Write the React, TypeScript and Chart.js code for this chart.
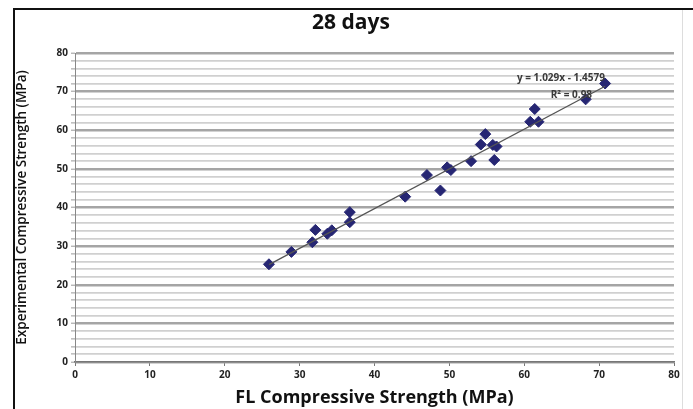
import React, { useEffect, useRef } from "react";
import { Chart, registerables } from "chart.js";

Chart.register(...registerables);

const chartTitle = "28 days";
const xAxisTitle = "FL Compressive Strength (MPa)";
const yAxisTitle = "Experimental Compressive Strength (MPa)";

const flStrength = [
  25.9, 28.9, 31.7, 32.1, 33.7, 34.3, 36.7, 36.7,
  44.1, 47.0, 48.8, 49.7, 50.2, 52.9, 54.2, 54.8,
  55.8, 56.3, 56.0, 60.8, 61.4, 61.9, 68.2, 70.8,
];
const expStrength = [
  25.3, 28.5, 31.0, 34.2, 33.2, 34.1, 36.2, 38.8,
  42.8, 48.4, 44.4, 50.4, 49.7, 52.0, 56.3, 59.0,
  56.2, 55.8, 52.3, 62.2, 65.5, 62.2, 68.0, 72.1,
];

const trendSlope = 1.029;
const trendIntercept = -1.4579;
const equationText = "y = 1.029x - 1.4579";
const r2Text = "R\u00B2 = 0.98";

const xTicks = [0, 10, 20, 30, 40, 50, 60, 70, 80];
const yTicks = [0, 10, 20, 30, 40, 50, 60, 70, 80];

const FONT = '"Open Sans", "Liberation Sans", sans-serif';

export default function App() {
  const canvasRef = useRef<HTMLCanvasElement | null>(null);

  useEffect(() => {
    const canvas = canvasRef.current;
    if (!canvas) return;

    const xMin = Math.min(...flStrength);
    const xMax = Math.max(...flStrength);
    const trendPoints = [
      { x: xMin, y: trendSlope * xMin + trendIntercept },
      { x: xMax, y: trendSlope * xMax + trendIntercept },
    ];

    const labelsPlugin = {
      id: "textLabels",
      afterDraw(chart: any) {
        const { ctx, scales } = chart;
        ctx.save();
        ctx.textAlign = "center";
        ctx.textBaseline = "middle";
        ctx.fillStyle = "#111";
        ctx.font = `bold 21px ${FONT}`;
        ctx.fillText(chartTitle, 351, 23);
        ctx.font = `bold 10px ${FONT}`;
        ctx.fillStyle = "#3a3a3a";
        ctx.fillText(equationText, scales.x.getPixelForValue(64.9), scales.y.getPixelForValue(73.5));
        ctx.fillText(r2Text, scales.x.getPixelForValue(66.3), scales.y.getPixelForValue(69.2));
        ctx.restore();
      },
    };

    const chart = new Chart(canvas, {
      type: "scatter",
      data: {
        datasets: [
          {
            type: "line",
            label: "Trend",
            data: trendPoints,
            borderColor: "#555",
            borderWidth: 1.3,
            pointRadius: 0,
            fill: false,
            order: 0,
          } as any,
          {
            label: "28 days",
            data: flStrength.map((x, i) => ({ x, y: expStrength[i] })),
            pointStyle: "rectRot",
            pointRadius: 5.5,
            backgroundColor: "#262673",
            borderColor: "#262673",
            borderWidth: 1,
            order: 1,
          },
        ],
      },
      options: {
        animation: false,
        responsive: false,
        layout: { padding: { left: 14, right: 19, top: 53, bottom: 0 } },
        plugins: {
          legend: { display: false },
          tooltip: { enabled: false },
          title: { display: false },
        },
        scales: {
          x: {
            type: "linear",
            min: 0,
            max: 80,
            afterBuildTicks: (scale: any) => {
              scale.ticks = xTicks.map((v) => ({ value: v }));
            },
            afterFit: (scale: any) => {
              scale.height = 47;
            },
            ticks: {
              color: "#222",
              font: { family: FONT, size: 10, weight: "bold" },
              padding: 3,
            },
            grid: {
              drawOnChartArea: false,
              drawTicks: true,
              tickLength: 4,
              tickColor: "#777",
            },
            border: { display: true, color: "#777", width: 1.5 },
            title: {
              display: true,
              text: xAxisTitle,
              color: "#111",
              font: { family: FONT, size: 18, weight: "bold" },
              padding: { top: 0, bottom: 0 },
            },
          },
          y: {
            type: "linear",
            min: 0,
            max: 80,
            ticks: {
              stepSize: 2,
              color: "#222",
              font: { family: FONT, size: 10, weight: "bold" },
              padding: 3,
              autoSkip: false,
              callback: (v: any) => (yTicks.includes(Number(v)) ? String(v) : ""),
            },
            afterFit: (scale: any) => {
              scale.width = 61;
            },
            grid: {
              color: (ctx: any) => (ctx.tick && ctx.tick.value % 10 === 0 ? "#a5a5a5" : "#d0d0d0"),
              lineWidth: (ctx: any) => (ctx.tick && ctx.tick.value % 10 === 0 ? 2.4 : 1.8),
              tickLength: 4,
              tickColor: "#999",
              tickWidth: 1,
            },
            border: { display: true, color: "#888", width: 1 },
            title: {
              display: true,
              text: yAxisTitle,
              color: "#111",
              font: { family: FONT, size: 13.5, weight: "600" },
              padding: { top: 0, bottom: 0 },
            },
          },
        },
      },
      plugins: [labelsPlugin],
    });

    return () => chart.destroy();
  }, []);

  return (
    <div
      style={{
        position: "fixed",
        left: 0,
        top: 0,
        width: 693,
        height: 409,
        background: "#fff",
        overflow: "hidden",
      }}
    >
      <canvas ref={canvasRef} width={693} height={409} style={{ position: "absolute", left: 0, top: 0 }} />
      <div style={{ position: "absolute", left: 13, top: 8, width: 680, height: 2, background: "#111" }} />
      <div style={{ position: "absolute", left: 13, top: 8, width: 2, height: 401, background: "#111" }} />
      <div style={{ position: "absolute", left: 682, top: 10, width: 1, height: 399, background: "#ddd" }} />
    </div>
  );
}
